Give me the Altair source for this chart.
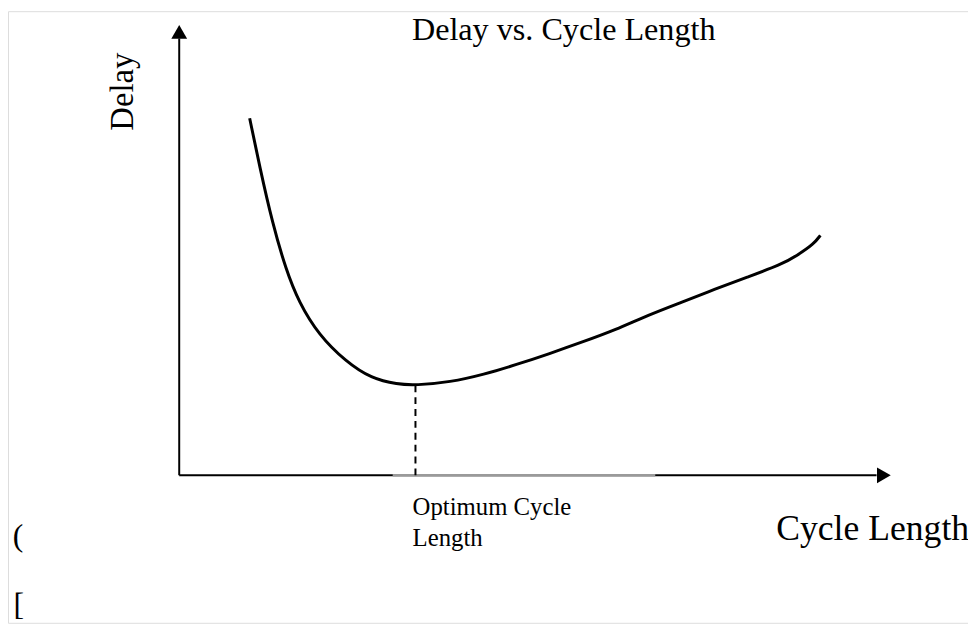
import altair as alt
import pandas as pd

# Curve (Cycle Length, Delay), arbitrary units 0..100
cycle = [9.9, 11.3, 13.1, 15.0, 16.8, 19.6, 23.4, 27.0, 30.7, 33.2, 38.1, 42.8,
         47.4, 52.0, 56.8, 61.3, 65.9, 70.7, 75.2, 79.8, 84.6, 86.8, 89.2, 90.1]
delay = [79.3, 68.6, 56.0, 45.7, 38.5, 31.2, 25.3, 21.5, 20.2, 20.0, 20.7, 22.4,
         24.6, 27.0, 29.7, 32.3, 35.6, 38.5, 41.3, 44.0, 46.8, 48.8, 51.4, 53.3]
optimum_x = 33.2
optimum_y = 20.0
band = [30.0, 66.9]          # grey stretch of the horizontal axis
axis_end = 100

# page layout constants
M = 6
W, H = 976 - M, 624 - M
PX_X0, PX_X100 = 179 - M, 898 - M
PX_Y0, PX_Y100 = 475 - M, 20 - M
ux = (PX_X100 - PX_X0) / 100.0
uy = (PX_Y0 - PX_Y100) / 100.0
xdom = [-PX_X0 / ux, (W - PX_X0) / ux]
ydom = [(PX_Y0 - H) / uy, PX_Y0 / uy]
xs = alt.Scale(domain=xdom, nice=False, zero=False)
ys = alt.Scale(domain=ydom, nice=False, zero=False)
FONT = "Liberation Serif"

curve_df = pd.DataFrame({"x": cycle, "y": delay})
curve = alt.Chart(curve_df).mark_line(
    color="black", strokeWidth=3, interpolate="basis"
).encode(x=alt.X("x:Q", scale=xs, axis=None), y=alt.Y("y:Q", scale=ys, axis=None))

yaxis_df = pd.DataFrame({"x": [0], "y": [0], "y2": [axis_end - 3]})
yaxis = alt.Chart(yaxis_df).mark_rule(color="black", strokeWidth=2).encode(
    x=alt.X("x:Q", scale=xs, axis=None), y=alt.Y("y:Q", scale=ys, axis=None), y2="y2:Q")

xaxis_df = pd.DataFrame({"x": [0], "x2": [axis_end - 2], "y": [0]})
xaxis = alt.Chart(xaxis_df).mark_rule(color="black", strokeWidth=2).encode(
    x=alt.X("x:Q", scale=xs, axis=None), x2="x2:Q", y=alt.Y("y:Q", scale=ys, axis=None))

band_df = pd.DataFrame({"x": [band[0]], "x2": [band[1]], "y": [0]})
bandm = alt.Chart(band_df).mark_rule(color="#9a9a9a", strokeWidth=2.5).encode(
    x=alt.X("x:Q", scale=xs, axis=None), x2="x2:Q", y=alt.Y("y:Q", scale=ys, axis=None))

dash_df = pd.DataFrame({"x": [optimum_x], "y": [0], "y2": [optimum_y]})
dash = alt.Chart(dash_df).mark_rule(color="black", strokeWidth=2, strokeDash=[7, 5]).encode(
    x=alt.X("x:Q", scale=xs, axis=None), y=alt.Y("y:Q", scale=ys, axis=None), y2="y2:Q")

up_df = pd.DataFrame({"x": [0], "y": [axis_end]})
up = alt.Chart(up_df).mark_point(shape="triangle-up", size=256, filled=True, color="black",
                                 opacity=1, yOffset=7).encode(
    x=alt.X("x:Q", scale=xs, axis=None), y=alt.Y("y:Q", scale=ys, axis=None))

right_df = pd.DataFrame({"x": [axis_end], "y": [0]})
right = alt.Chart(right_df).mark_point(shape="triangle-right", size=256, filled=True, color="black",
                                       opacity=1, xOffset=-7).encode(
    x=alt.X("x:Q", scale=xs, axis=None), y=alt.Y("y:Q", scale=ys, axis=None))

# annotations
labels = ["Delay vs. Cycle Length", "Cycle Length", "Optimum Cycle", "Length", "(", "["]
lab_x = [32.7, 111.0, 32.8, 32.8, -23.4, -23.3]
lab_y = [96.7, -14.3, -8.8, -15.6, -15.6, -31.0]
lab_size = [32.5, 36, 25, 25, 32, 32]
lab_align = ["left", "right", "left", "left", "left", "left"]

layers = [xaxis, bandm, yaxis, dash, curve, up, right]
for t, x, y, s, a in zip(labels, lab_x, lab_y, lab_size, lab_align):
    d = pd.DataFrame({"x": [x], "y": [y], "t": [t]})
    layers.append(alt.Chart(d).mark_text(font=FONT, fontSize=s, align=a, baseline="alphabetic",
                                         color="black").encode(
        x=alt.X("x:Q", scale=xs, axis=None), y=alt.Y("y:Q", scale=ys, axis=None), text="t:N"))

d = pd.DataFrame({"x": [-7.9], "y": [85.2], "t": ["Delay"]})
layers.append(alt.Chart(d).mark_text(font=FONT, fontSize=33, align="center", baseline="middle",
                                     angle=270, color="black").encode(
    x=alt.X("x:Q", scale=xs, axis=None), y=alt.Y("y:Q", scale=ys, axis=None), text="t:N"))

chart = alt.layer(*layers).properties(
    width=W, height=H, autosize=alt.AutoSizeParams(type="none"), padding=0
).configure_view(stroke=None).configure(background="white")

chart.save("out.html", embed_options={"renderer": "svg", "actions": False})
